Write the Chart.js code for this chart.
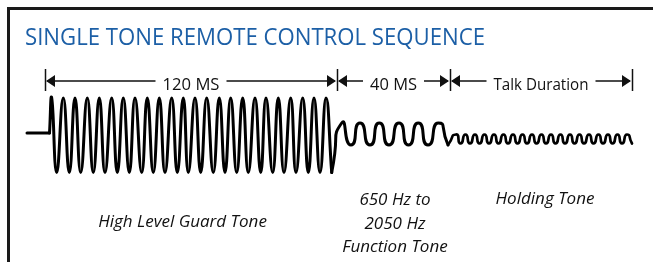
<!DOCTYPE html>
<html><head><meta charset="utf-8">
<script src="https://cdn.jsdelivr.net/npm/chart.js@4.4.0/dist/chart.umd.min.js"></script>
<style>html,body{margin:0;padding:0;background:#fff;overflow:hidden}canvas{display:block}</style>
</head><body>
<canvas id="c" width="653" height="262"></canvas>
<script>
// ---- data ----
const chartTitle = 'SINGLE TONE REMOTE CONTROL SEQUENCE';
const segmentLabels = ['120 MS', '40 MS', 'Talk Duration'];
const segmentBounds = [45, 337, 450, 632];
const toneLabels = [['High Level Guard Tone'], ['650 Hz to', '2050 Hz', 'Function Tone'], ['Holding Tone']];

const leadInX = [27, 49.5];
const leadInLevel = 1;

const guardPeakX = [51.7, 63.3, 75, 87.3, 99.3, 111.7, 123.3, 135, 147.3, 159.3, 171.7, 183.3,
                    195, 206.7, 219.3, 230.7, 242.7, 255, 266, 278.3, 290.7, 302.7, 314, 326];
const guardTroughX = [56.7, 69.3, 80.7, 93.3, 105, 117.3, 129.3, 141.7, 153.3, 165, 177.3, 188.3,
                      200.7, 213.3, 225, 236.7, 248.3, 260.7, 272.7, 284, 296, 308.3, 320, 331.7];
const guardPeak = 36, guardTrough = -38.5;

const functionPeakX = [341.7, 360, 379.3, 399, 418.3, 438.3];
const functionTroughX = [351, 370, 389, 408.5, 428, 448];
const functionPeak = 11, functionTrough = -11;

const holdingPeakX = [456, 465.5, 475, 484.5, 494, 503.5, 513, 522.5, 532, 541.5, 551, 560.5,
                      570, 579.5, 589, 598.5, 608, 617.5, 627];
const holdingTroughX = [460.5, 470, 479.5, 489, 498.5, 508, 517.5, 527, 536.5, 546, 555.5, 565,
                        574.5, 584, 593.5, 603, 612.5, 622, 632];
const holdingPeak = -0.5, holdingTrough = -9.5;

// ---- build the waveform point lists ----
function interleave(px, tx, hi, lo) {
  const out = [];
  for (let i = 0; i < px.length; i++) {
    out.push({x: px[i], y: hi});
    if (i < tx.length) out.push({x: tx[i], y: lo});
  }
  return out;
}
const leadIn = leadInX.map(x => ({x, y: leadInLevel}));
const guard = [leadIn[leadIn.length - 1]].concat(interleave(guardPeakX, guardTroughX, guardPeak, guardTrough));
const func = [guard[guard.length - 1]].concat(interleave(functionPeakX, functionTroughX, functionPeak, functionTrough));
const holding = [func[func.length - 1]].concat(interleave(holdingPeakX, holdingTroughX, holdingPeak, holdingTrough));

const INK = '#111';
const FONT = '"Open Sans", "Noto Sans", sans-serif';

const diagramPlugin = {
  id: 'diagram',
  afterDraw(chart) {
    const ctx = chart.ctx;
    const xs = chart.scales.x;
    ctx.save();
    // frame
    ctx.strokeStyle = '#1a1a1a';
    ctx.lineWidth = 3;
    ctx.beginPath();
    ctx.moveTo(8.5, 262); ctx.lineTo(8.5, 8.5); ctx.lineTo(653, 8.5);
    ctx.stroke();
    // title
    ctx.fillStyle = '#1c5fa6';
    ctx.font = '23px ' + FONT;
    ctx.textAlign = 'left';
    ctx.textBaseline = 'alphabetic';
    ctx.fillText(chartTitle, 25, 45, 460);

    // dimension arrows
    const ay = 81, tickTop = 69, tickBot = 91, gap = 7;
    const maxW = [57, 47, 95];
    ctx.font = '17px ' + FONT;
    ctx.textAlign = 'center';
    ctx.strokeStyle = INK; ctx.fillStyle = INK;
    segmentBounds.forEach(b => {
      const x = Math.round(xs.getPixelForValue(b)) + 0.5;
      ctx.lineWidth = 1.5;
      ctx.beginPath(); ctx.moveTo(x, tickTop); ctx.lineTo(x, tickBot); ctx.stroke();
    });
    for (let i = 0; i < segmentLabels.length; i++) {
      const xa = xs.getPixelForValue(segmentBounds[i]);
      const xb = xs.getPixelForValue(segmentBounds[i + 1]);
      const mid = (xa + xb) / 2;
      const tw = Math.min(ctx.measureText(segmentLabels[i]).width, maxW[i]);
      ctx.lineWidth = 1.3;
      ctx.beginPath();
      ctx.moveTo(xa + 2, ay); ctx.lineTo(mid - tw / 2 - gap, ay);
      ctx.moveTo(mid + tw / 2 + gap, ay); ctx.lineTo(xb - 2, ay);
      ctx.stroke();
      ctx.beginPath();
      ctx.moveTo(xa + 1, ay); ctx.lineTo(xa + 10, ay - 6); ctx.lineTo(xa + 10, ay + 6); ctx.closePath();
      ctx.moveTo(xb - 1, ay); ctx.lineTo(xb - 10, ay - 6); ctx.lineTo(xb - 10, ay + 6); ctx.closePath();
      ctx.fill();
      ctx.fillText(segmentLabels[i], mid, 90, maxW[i]);
    }

    // tone labels
    ctx.font = 'italic 17px ' + FONT;
    ctx.fillStyle = INK;
    const centers = [182.5, 395, 545];
    const firstBase = [227, 205, 204];
    const lineH = 23.5;
    const labelMax = [[180], [75, 65, 111], [105]];
    toneLabels.forEach((lines, i) => {
      const cx = xs.getPixelForValue(centers[i]);
      lines.forEach((t, j) => {
        ctx.fillText(t, cx, firstBase[i] + j * lineH, labelMax[i][j]);
      });
    });
    ctx.restore();
  }
};

const lineStyle = {
  borderColor: '#000',
  borderWidth: 3,
  pointRadius: 0,
  fill: false,
  borderJoinStyle: 'round',
  borderCapStyle: 'round',
  cubicInterpolationMode: 'default'
};

new Chart(document.getElementById('c'), {
  type: 'line',
  data: {
    datasets: [
      Object.assign({}, lineStyle, {data: leadIn, tension: 0}),
      Object.assign({}, lineStyle, {data: guard, tension: 0.5}),
      Object.assign({}, lineStyle, {data: func, tension: 0.85}),
      Object.assign({}, lineStyle, {data: holding, tension: 0.85, borderWidth: 2.7})
    ]
  },
  options: {
    responsive: false,
    animation: false,
    devicePixelRatio: 1,
    layout: {padding: 0},
    plugins: {legend: {display: false}, tooltip: {enabled: false}, title: {display: false}},
    scales: {
      x: {type: 'linear', min: 0, max: 653, display: false},
      y: {type: 'linear', min: -128, max: 134, display: false}
    }
  },
  plugins: [diagramPlugin]
});
</script>
</body></html>
